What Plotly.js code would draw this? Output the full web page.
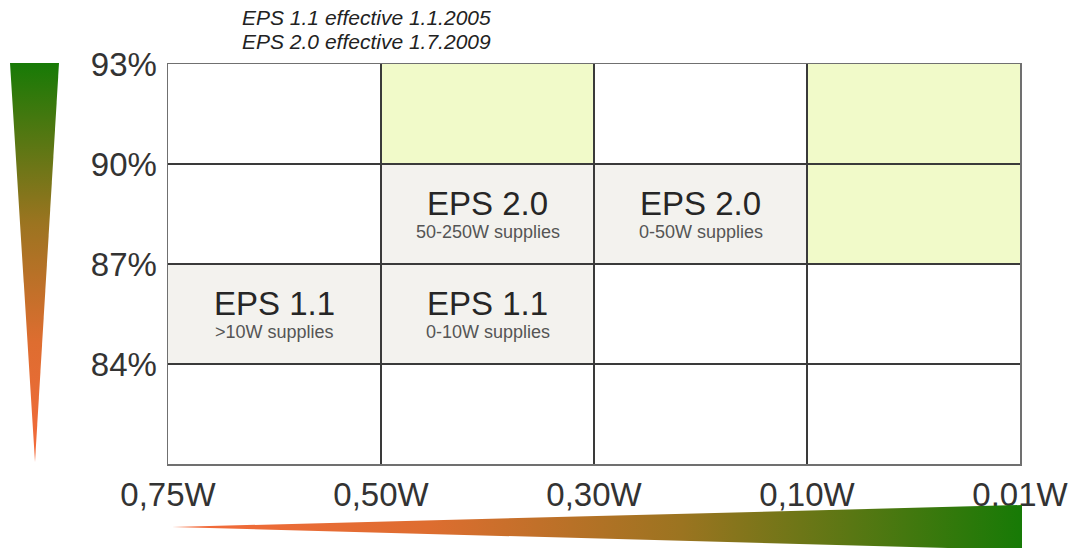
<!DOCTYPE html>
<html>
<head>
<meta charset="utf-8">
<script src="https://cdn.plot.ly/plotly-3.0.1.min.js"></script>
<style>html,body{margin:0;padding:0;background:#fff;}#chart{width:1073px;height:548px;}</style>
</head>
<body>
<div id="chart"></div>
<script>
// ---- data ----
const xTickVals = [0, 1, 2, 3, 4];
const xTickText = ['0,75W', '0,50W', '0,30W', '0,10W', '0,01W'];
const yTickVals = [84, 87, 90, 93];
const yTickText = ['84%', '87%', '90%', '93%'];
const yRange = [81, 93];
const rowStep = 3;

// shaded cells: column index (left edge) and upper efficiency bound
const cellCol = [1, 3, 3, 1, 2, 0, 1];
const cellTop = [93, 93, 90, 90, 90, 87, 87];
const cellKind = ['target', 'target', 'target', 'eps', 'eps', 'eps', 'eps'];

// labelled cells
const labelCol = [1, 2, 0, 1];
const labelTop = [90, 90, 87, 87];
const labelMain = ['EPS 2.0', 'EPS 2.0', 'EPS 1.1', 'EPS 1.1'];
const labelSub = ['50-250W supplies', '0-50W supplies', '>10W supplies', '0-10W supplies'];

const titleLines = ['EPS 1.1 effective 1.1.2005', 'EPS 2.0 effective 1.7.2009'];

// decorative gradient wedges (page pixel frame)
const wedgeLeftX = [10, 59, 35, 10];
const wedgeLeftY = [63, 63, 462, 63];
const wedgeBottomX = [172, 1022, 1022, 172];
const wedgeBottomY = [527, 505, 550, 527];

// ---- styles ----
const W = 1073, H = 548;
const plotL = 168, plotR = 1020, plotT = 64, plotB = 464;
const kindColor = {target: '#f1fac9', eps: '#f3f2ee'};
const ramp = [[0, '#f46a3b'], [0.3, '#de6d30'], [0.6, '#9b7420'], [1, '#177a06']];
const FONT = 'Liberation Sans, Arial, sans-serif';

const shapes = cellCol.map((c, i) => ({
  type: 'rect', xref: 'x', yref: 'y', layer: 'below',
  x0: c, x1: c + 1, y0: cellTop[i] - rowStep, y1: cellTop[i],
  fillcolor: kindColor[cellKind[i]], line: {width: 0}
}));

const annotations = [];
labelCol.forEach((c, i) => {
  const yc = labelTop[i] - rowStep / 2;
  annotations.push({xref: 'x', yref: 'y', x: c + 0.5, y: yc, yshift: 11, showarrow: false,
    text: labelMain[i], font: {family: FONT, size: 33, color: '#262626'}});
  annotations.push({xref: 'x', yref: 'y', x: c + 0.5, y: yc, yshift: -18, showarrow: false,
    text: labelSub[i], font: {family: FONT, size: 18, color: '#555'}});
});
titleLines.forEach((t, i) => {
  annotations.push({xref: 'paper', yref: 'paper', x: 366 / W, y: 1 - (17 + 25 * i) / H,
    xanchor: 'center', yanchor: 'middle', showarrow: false, text: t,
    font: {family: FONT, size: 21, color: '#222', style: 'italic'}});
});

const traces = [
  {x: wedgeLeftX, y: wedgeLeftY, xaxis: 'x2', yaxis: 'y2', mode: 'lines', line: {width: 0},
   fill: 'toself', fillgradient: {type: 'vertical', colorscale: ramp},
   hoverinfo: 'skip', showlegend: false},
  {x: wedgeBottomX, y: wedgeBottomY, xaxis: 'x2', yaxis: 'y2', mode: 'lines', line: {width: 0},
   fill: 'toself', fillgradient: {type: 'horizontal', colorscale: ramp},
   hoverinfo: 'skip', showlegend: false},
  {x: [0, 4], y: yRange, mode: 'markers', marker: {opacity: 0}, hoverinfo: 'skip', showlegend: false}
];

const tickFont = {family: FONT, size: 33, color: '#333'};
const layout = {
  width: W, height: H,
  margin: {l: 0, r: 0, t: 0, b: 0, pad: 0},
  paper_bgcolor: '#fff', plot_bgcolor: 'rgba(0,0,0,0)',
  showlegend: false,
  xaxis: {domain: [plotL / W, plotR / W], range: [0, 4], tickmode: 'array', tickvals: xTickVals, ticktext: xTickText,
    showgrid: true, gridcolor: '#3a3a3a', gridwidth: 1.2, zeroline: false,
    showline: true, mirror: true, linecolor: '#707070', linewidth: 1.5,
    ticks: '', tickfont: tickFont, ticklabelstandoff: 1, fixedrange: true},
  yaxis: {domain: [(H - plotB) / H, (H - plotT) / H], range: yRange, tickmode: 'array', tickvals: yTickVals, ticktext: yTickText,
    showgrid: true, gridcolor: '#3a3a3a', gridwidth: 1.2, zeroline: false,
    showline: true, mirror: true, linecolor: '#707070', linewidth: 1.5,
    ticks: '', tickfont: tickFont, ticklabelstandoff: 3, fixedrange: true},
  xaxis2: {domain: [0, 1], range: [0, W], visible: false, fixedrange: true, anchor: 'y2'},
  yaxis2: {domain: [0, 1], range: [H, 0], visible: false, fixedrange: true, anchor: 'x2'},
  shapes: shapes,
  annotations: annotations
};

Plotly.newPlot('chart', traces, layout, {displayModeBar: false, staticPlot: true});
</script>
</body>
</html>
